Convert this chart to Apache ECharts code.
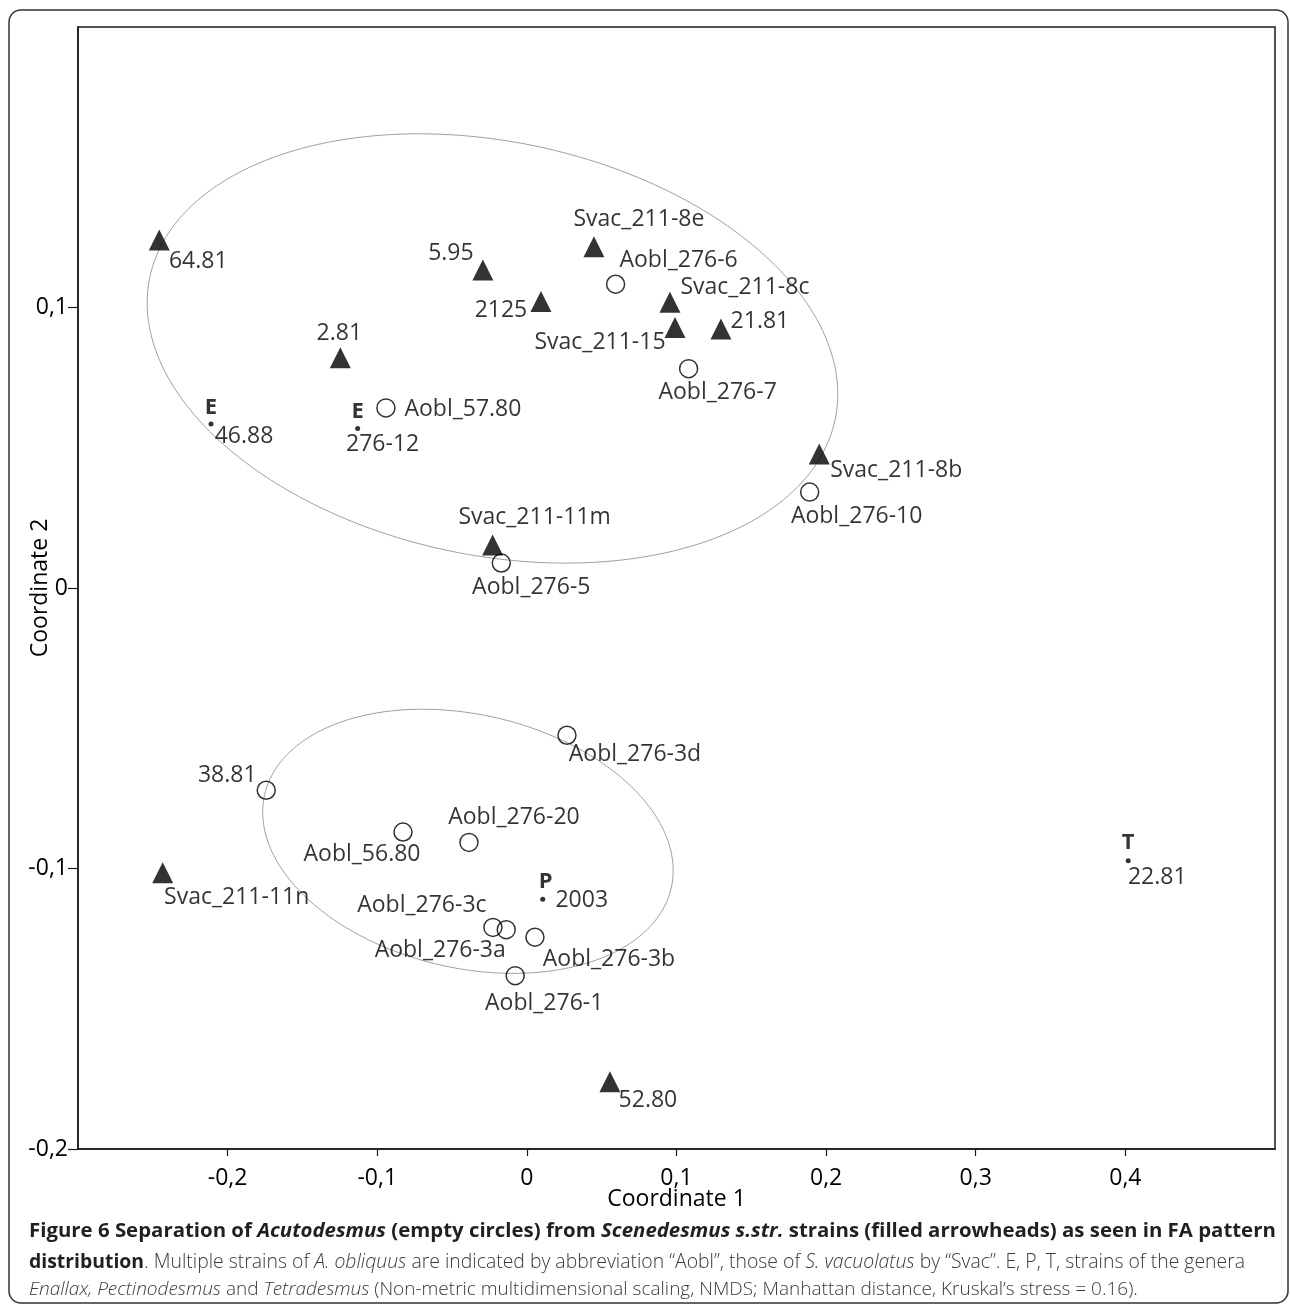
<!DOCTYPE html>
<html>
<head>
<meta charset="utf-8">
<script src="https://cdn.jsdelivr.net/npm/echarts@6/dist/echarts.min.js"></script>
<style>
  html, body { margin: 0; padding: 0; background: #fff; }
  #chart { width: 1290px; height: 1304px; }
</style>
</head>
<body>
<div id="chart"></div>
<script>
// ---------- Data ----------
// Scenedesmus s.str. strains (filled arrowheads)
const triNames = ['64.81', '5.95', 'Svac_211-8e', '2125', '2.81', 'Svac_211-8c', 'Svac_211-15', '21.81', 'Svac_211-8b', 'Svac_211-11m', 'Svac_211-11n', '52.80'];
const triX = [-0.2457, -0.0294, 0.0448, 0.0094, -0.1247, 0.0956, 0.0990, 0.1297, 0.1954, -0.0229, -0.2434, 0.0555];
const triY = [0.1241, 0.1134, 0.1217, 0.1021, 0.0821, 0.1019, 0.0929, 0.0923, 0.0478, 0.0153, -0.1015, -0.1760];

// Acutodesmus strains (empty circles)
const circNames = ['Aobl_276-6', 'Aobl_276-7', 'Aobl_57.80', 'Aobl_276-10', 'Aobl_276-5', 'Aobl_276-3d', '38.81', 'Aobl_56.80', 'Aobl_276-20', 'Aobl_276-3c', 'Aobl_276-3a', 'Aobl_276-3b', 'Aobl_276-1'];
const circX = [0.0593, 0.1081, -0.0942, 0.1890, -0.0171, 0.0268, -0.1742, -0.0828, -0.0387, -0.0227, -0.0138, 0.0054, -0.0078];
const circY = [0.1083, 0.0782, 0.0642, 0.0342, 0.0089, -0.0525, -0.0721, -0.0870, -0.0907, -0.1210, -0.1218, -0.1245, -0.1382];

// Enallax (E), Pectinodesmus (P), Tetradesmus (T) strains (small dots)
const dotNames = ['46.88', '276-12', '2003', '22.81'];
const dotLetters = ['E', 'E', 'P', 'T'];
const dotX = [-0.2111, -0.1131, 0.0106, 0.4019];
const dotY = [0.0585, 0.0569, -0.1110, -0.0972];

// Grouping ellipses: centre (x, y), semi-axes (in Coordinate-1 units), tilt (deg, clockwise on screen)
const ellipseCX = [-0.0230, -0.0394];
const ellipseCY = [0.0854, -0.0903];
const ellipseA = [0.2339, 0.1394];
const ellipseB = [0.1383, 0.0847];
const ellipseTilt = [11.65, 12.95];

// Axis ticks
const xTickValues = [-0.2, -0.1, 0, 0.1, 0.2, 0.3, 0.4];
const xTickLabels = ['-0,2', '-0,1', '0', '0,1', '0,2', '0,3', '0,4'];
const yTickValues = [-0.2, -0.1, 0, 0.1];
const yTickLabels = ['-0,2', '-0,1', '0', '0,1'];

// ---------- Label placement (pixel offsets from marker centre) ----------
const triLabelOffsets = [[39, 22], [-32, -16], [45, -27], [-40, 9], [-1, -24], [75, -15], [-75, 15], [39, -8], [77, 17], [42, -28], [74, 25], [38, 19]];
const circLabelOffsets = [[63, -24], [29, 24], [77, 2], [47, 24], [30, 24], [68, 19], [-39, -15], [-41, 22], [45, -25], [-71, -22], [-66, 21], [74, 22], [29, 28]];
const dotLabelOffsets = [[33, 13], [25, 16], [39, 1], [29, 17]];
const dotLetterOffsets = [[0, -16], [0, -17], [3, -18], [0, -18]];

const FONT = 'Open Sans';

function fmt(values, labels) {
  return function (v) {
    const i = values.findIndex(t => Math.abs(t - v) < 1e-9);
    return i >= 0 ? labels[i] : '';
  };
}

function pointData(names, xs, ys, offsets) {
  return names.map((n, i) => ({
    name: n,
    value: [xs[i], ys[i]],
    label: { offset: offsets[i] }
  }));
}

const baseLabel = {
  show: true,
  position: ['50%', '50%'],
  align: 'center',
  verticalAlign: 'middle',
  fontFamily: FONT,
  fontSize: 23,
  color: '#000',
  textBorderWidth: 0,
  formatter: '{b}'
};

const chart = echarts.init(document.getElementById('chart'), null, { renderer: 'canvas' });

const option = {
  backgroundColor: '#fff',
  animation: false,
  grid: {
    left: 78, top: 27, width: 1197, height: 1122,
    containLabel: false, outerBoundsMode: 'none',
    show: true, borderColor: '#1a1a1a', borderWidth: 1.5, backgroundColor: 'transparent'
  },
  xAxis: {
    type: 'value', min: -0.3, max: 0.5,
    name: 'Coordinate 1', nameLocation: 'middle', nameGap: 39, nameMoveOverlap: false,
    nameTextStyle: { fontFamily: FONT, fontSize: 23, color: '#000' },
    axisLine: { show: true, onZero: false, lineStyle: { color: '#1a1a1a', width: 1.5 } },
    axisTick: { show: true, length: 7, customValues: xTickValues, lineStyle: { color: '#1a1a1a', width: 1.2 } },
    axisLabel: { customValues: xTickValues, formatter: fmt(xTickValues, xTickLabels), fontFamily: FONT, fontSize: 23, color: '#000', margin: 18 },
    splitLine: { show: false }
  },
  yAxis: {
    type: 'value', min: -0.2, max: 0.2,
    name: 'Coordinate 2', nameLocation: 'middle', nameGap: 26, nameRotate: 90, nameMoveOverlap: false,
    nameTextStyle: { fontFamily: FONT, fontSize: 23, color: '#000' },
    axisLine: { show: true, onZero: false, lineStyle: { color: '#1a1a1a', width: 1.5 } },
    axisTick: { show: true, length: 10, customValues: yTickValues, lineStyle: { color: '#1a1a1a', width: 1.2 } },
    axisLabel: { customValues: yTickValues, formatter: fmt(yTickValues, yTickLabels), fontFamily: FONT, fontSize: 23, color: '#000', margin: 10 },
    splitLine: { show: false }
  },
  series: [
    {
      type: 'custom',
      name: 'ellipses',
      silent: true,
      z: 1,
      data: ellipseCX.map((cx, i) => [cx, ellipseCY[i], ellipseA[i], ellipseB[i], ellipseTilt[i]]),
      renderItem: function (params, api) {
        const c = api.coord([api.value(0), api.value(1)]);
        const a = api.size([api.value(2), 0])[0];
        const b = api.size([api.value(3), 0])[0];
        const th = api.value(4) * Math.PI / 180;
        const pts = [];
        for (let k = 0; k < 240; k++) {
          const t = k / 240 * 2 * Math.PI;
          pts.push([
            c[0] + a * Math.cos(t) * Math.cos(th) - b * Math.sin(t) * Math.sin(th),
            c[1] + a * Math.cos(t) * Math.sin(th) + b * Math.sin(t) * Math.cos(th)
          ]);
        }
        return { type: 'polygon', shape: { points: pts }, style: { fill: 'none', stroke: '#a0a0a0', lineWidth: 1 } };
      }
    },
    {
      type: 'scatter',
      name: 'Scenedesmus',
      z: 3,
      symbol: 'triangle',
      symbolSize: 21,
      itemStyle: { color: '#000' },
      label: baseLabel,
      emphasis: { disabled: true },
      data: pointData(triNames, triX, triY, triLabelOffsets)
    },
    {
      type: 'scatter',
      name: 'Acutodesmus',
      z: 3,
      symbol: 'circle',
      symbolSize: 18,
      itemStyle: { color: 'transparent', borderColor: '#000', borderWidth: 1.5 },
      label: baseLabel,
      emphasis: { disabled: true },
      data: pointData(circNames, circX, circY, circLabelOffsets)
    },
    {
      type: 'scatter',
      name: 'Other genera',
      z: 3,
      symbol: 'circle',
      symbolSize: 5,
      itemStyle: { color: '#000' },
      label: baseLabel,
      emphasis: { disabled: true },
      data: pointData(dotNames, dotX, dotY, dotLabelOffsets)
    },
    {
      type: 'scatter',
      name: 'Genus letters',
      z: 3,
      symbol: 'circle',
      symbolSize: 0.1,
      itemStyle: { color: 'transparent' },
      label: Object.assign({}, baseLabel, { fontWeight: 'bold', fontSize: 22 }),
      emphasis: { disabled: true },
      data: pointData(dotLetters, dotX, dotY, dotLetterOffsets)
    }
  ],
  graphic: [
    {
      type: 'rect', z: 0, silent: true,
      shape: { x: 9, y: 10, width: 1279, height: 1293, r: 12 },
      style: { fill: 'none', stroke: '#333', lineWidth: 1.5 }
    },
    {
      type: 'text', silent: true, x: 29, y: 1231,
      style: {
        text: '{b|Figure 6 Separation of }{bi|Acutodesmus}{b| (empty circles) from }{bi|Scenedesmus s.str.}{b| strains (filled arrowheads) as seen in FA pattern}',
        verticalAlign: 'middle',
        rich: {
          b: { fontFamily: FONT, fontSize: 20.4, fontWeight: 'bold', fill: '#231f20' },
          bi: { fontFamily: FONT, fontSize: 20.4, fontWeight: 'bold', fontStyle: 'italic', fill: '#231f20' }
        }
      }
    },
    {
      type: 'text', silent: true, x: 29, y: 1262,
      style: {
        text: '{b|distribution}{r|. Multiple strains of }{i|A. obliquus}{r| are indicated by abbreviation \u201CAobl\u201D, those of }{i|S. vacuolatus}{r| by \u201CSvac\u201D. E, P, T, strains of the genera}',
        verticalAlign: 'middle',
        rich: {
          b: { fontFamily: FONT, fontSize: 19.4, fontWeight: 'bold', fill: '#231f20' },
          r: { fontFamily: FONT, fontSize: 19.4, fontWeight: 300, fill: '#3a3a3a' },
          i: { fontFamily: FONT, fontSize: 19.4, fontWeight: 300, fontStyle: 'italic', fill: '#3a3a3a' }
        }
      }
    },
    {
      type: 'text', silent: true, x: 29, y: 1290,
      style: {
        text: '{i|Enallax, Pectinodesmus}{r| and }{i|Tetradesmus}{r| (Non-metric multidimensional scaling, NMDS; Manhattan distance, Kruskal\u2019s stress = 0.16).}',
        verticalAlign: 'middle',
        rich: {
          r: { fontFamily: FONT, fontSize: 19.0, fontWeight: 300, fill: '#3a3a3a' },
          i: { fontFamily: FONT, fontSize: 19.0, fontWeight: 300, fontStyle: 'italic', fill: '#3a3a3a' }
        }
      }
    }
  ]
};

chart.setOption(option);
</script>
</body>
</html>
